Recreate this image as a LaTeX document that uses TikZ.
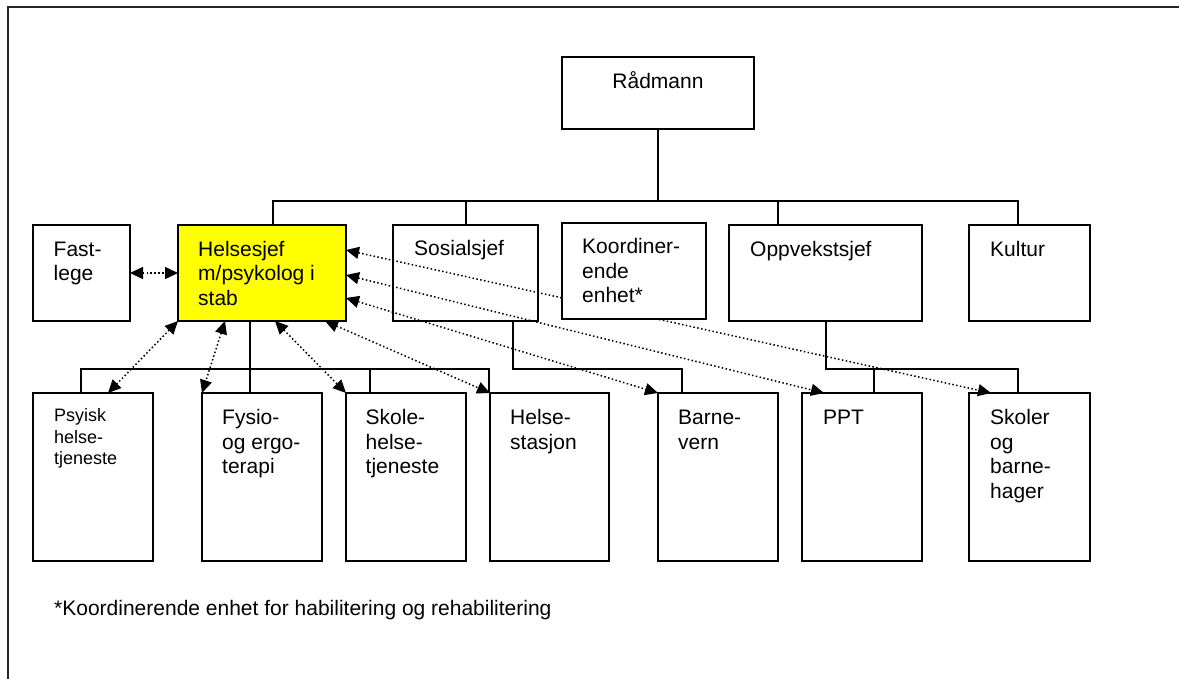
\documentclass[tikz,border=0pt]{standalone}
\usepackage{fontspec}
\setmainfont{Liberation Sans}
\usetikzlibrary{arrows.meta,calc}
\definecolor{hiyellow}{RGB}{255,255,0}
\begin{document}
\begin{tikzpicture}[x=1pt,y=-1pt,
  box/.style={draw,line width=1.9pt,anchor=north west,inner sep=0pt,outer sep=0pt},
  topbox/.style={box,minimum height=96pt},
  lowbox/.style={box,minimum height=168pt},
  % base anchor of a multi-line label sits on its last line
  txt/.style={anchor=base west,align=left,inner sep=0pt,font=\fontsize{21}{24.5}\selectfont},
  smalltxt/.style={txt,font=\fontsize{18}{21.5}\selectfont},
  tree/.style={line width=1.9pt},
  tip/.tip={Triangle[length=13pt,width=12pt]},
  link/.style={line width=1.5pt,dash pattern=on 1.5pt off 2.4pt,tip-tip},
]
\useasboundingbox (0,0) rectangle (1179,678);

% page frame
\draw[line width=1.4pt,black!85] (8,682) -- (8,7) -- (1183,7);

% top of the hierarchy
\node[box,minimum width=192pt,minimum height=72pt] (rad) at (562,57) {};
\node[anchor=base,inner sep=0pt,font=\fontsize{21}{24.5}\selectfont] (radt) at ($(rad.north)+(0,31)$) {Rådmann};

% department heads
\node[topbox,minimum width=97pt] (fl) at (33,225) {};
\node[topbox,minimum width=168pt,fill=hiyellow] (hs) at (178,225) {};
\node[topbox,minimum width=145pt] (sos) at (393,225) {};
\node[topbox,minimum width=193pt] (opp) at (729,225) {};
\node[topbox,minimum width=121pt] (kul) at (969,225) {};

% services
\node[lowbox,minimum width=120pt] (psy) at (33,393) {};
\node[lowbox,minimum width=120pt] (fys) at (202,393) {};
\node[lowbox,minimum width=120pt] (sko) at (346,393) {};
\node[lowbox,minimum width=119pt] (hes) at (490,393) {};
\node[lowbox,minimum width=120pt] (bar) at (658,393) {};
\node[lowbox,minimum width=120pt] (ppt) at (802,393) {};
\node[lowbox,minimum width=121pt] (skl) at (969,393) {};

% labels
\node[txt] (flt)  at ($(fl.north west)+(20.5,55.5)$)  {Fast-\\lege};
\node[txt] (hst)  at ($(hs.north west)+(20,80)$)   {Helsesjef\\m/psykolog i\\stab};
\node[txt] (sost) at ($(sos.north west)+(21,30)$)  {Sosialsjef};
\node[txt] (oppt) at ($(opp.north west)+(21,31)$)  {Oppvekstsjef};
\node[txt] (kult) at ($(kul.north west)+(21,31)$)  {Kultur};
\node[smalltxt] (psyt) at ($(psy.north west)+(21,71.5)$) {Psyisk\\helse-\\tjeneste};
\node[txt] (fyst) at ($(fys.north west)+(20,80.5)$) {Fysio-\\og ergo-\\terapi};
\node[txt] (skot) at ($(sko.north west)+(19.5,80.5)$) {Skole-\\helse-\\tjeneste};
\node[txt] (hest) at ($(hes.north west)+(20,56)$) {Helse-\\stasjon};
\node[txt] (bart) at ($(bar.north west)+(20,56)$) {Barne-\\vern};
\node[txt] (pptt) at ($(ppt.north west)+(21,31.5)$) {PPT};
\node[txt] (sklt) at ($(skl.north west)+(21,105)$) {Skoler\\og\\barne-\\hager};

% reporting lines
\coordinate (busy) at (0,201);
\draw[tree] (rad.south) -- (rad.south |- busy);
\draw[tree] ($(hs.north west)+(95,0)$) |- ($(kul.north west)+(49,-24)$) -- ($(kul.north west)+(49,0)$);
\draw[tree] ($(sos.north west)+(73,0)$) -- ++(0,-24);
\draw[tree] ($(opp.north west)+(49,0)$) -- ($(opp.north west)+(49,-24)$);

\draw[tree] ($(hs.south west)+(72,0)$) -- ($(fys.north west)+(48,0)$);
\draw[tree] ($(psy.north west)+(48,0)$) |- ($(hes.north west)+(-1,-24)$) -- ($(hes.north west)+(-1,0)$);
\draw[tree] ($(sko.north west)+(24,0)$) -- ++(0,-24);
\draw[tree] ($(sos.south west)+(120,0)$) |- ($(bar.north west)+(24,-24)$) -- ($(bar.north west)+(24,0)$);
\draw[tree] ($(opp.south west)+(97,0)$) |- ($(skl.north west)+(49,-24)$) -- ($(skl.north west)+(49,0)$);
\draw[tree] ($(ppt.north west)+(72,0)$) -- ++(0,-24);

% cooperation links
\draw[link] (fl.east) -- (hs.west);
\draw[link] (hs.south west) -- ($(psy.north west)+(75,0)$);
\draw[link] ($(hs.south west)+(47,0)$) -- (fys.north west);
\draw[link] ($(hs.south west)+(97,0)$) -- (sko.north west);
\draw[link] ($(hs.south west)+(147,0)$) -- (hes.north west);
\draw[link] ($(hs.north east)+(0,25)$) -- ($(skl.north west)+(22,0)$);
\draw[link] ($(hs.north east)+(0,50)$) -- ($(ppt.north west)+(22,0)$);
\draw[link] ($(hs.north east)+(0,73)$) -- (bar.north west);

% coordinating unit, drawn over the link that passes behind it
\node[topbox,minimum width=144pt,fill=white] (koo) at (562,223) {};
\node[txt] (koot) at ($(koo.north west)+(20,79.5)$) {Koordiner-\\ende\\enhet*};
\draw[tree] ($(koo.north west)+(47,0)$) -- (koo.north west -| 609,201);

% footnote
\node[txt] (note) at (54,615) {*Koordinerende enhet for habilitering og rehabilitering};
\end{tikzpicture}
\end{document}
